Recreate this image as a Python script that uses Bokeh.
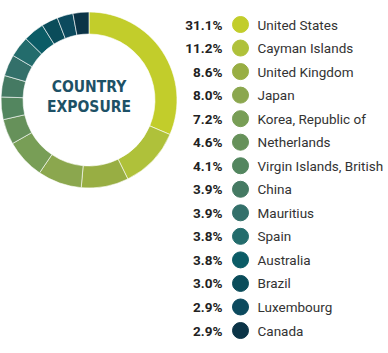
import numpy as np
from bokeh.plotting import figure
from bokeh.models import Range1d, ColumnDataSource
from bokeh.core.properties import value
from bokeh.embed import file_html
from bokeh.resources import INLINE

countries = ["United States", "Cayman Islands", "United Kingdom", "Japan",
             "Korea, Republic of", "Netherlands", "Virgin Islands, British",
             "China", "Mauritius", "Spain", "Australia", "Brazil",
             "Luxembourg", "Canada"]
shares = [31.1, 11.2, 8.6, 8.0, 7.2, 4.6, 4.1, 3.9, 3.9, 3.8, 3.8, 3.0, 2.9, 2.9]
colors = ["#C2CD2B", "#AFC13A", "#98AE43", "#8BA74E", "#789E56", "#66915A",
          "#53865F", "#457A63", "#33706A", "#236C6C", "#0B5C66", "#0A4C5A",
          "#0C4A5E", "#0B3447"]
labels = [f"{s:.1f}%" for s in shares]
center_title = ["COUNTRY", "EXPOSURE"]

W, H = 388, 353
p = figure(width=W, height=H, output_backend="svg", toolbar_location=None,
           x_range=Range1d(0, W), y_range=Range1d(0, H), min_border=0)
p.axis.visible = False
p.grid.visible = False
p.outline_line_color = None
p.background_fill_color = "white"

# donut
cx, cy = 88.5, H - 99.5
total = sum(shares)
frac = np.array(shares) / total
cum = np.concatenate([[0], np.cumsum(frac)])
start = np.pi / 2 - cum[1:] * 2 * np.pi
end = np.pi / 2 - cum[:-1] * 2 * np.pi
src = ColumnDataSource(dict(x=[cx] * len(shares), y=[cy] * len(shares),
                            start=start, end=end, color=colors))
p.annular_wedge(x="x", y="y", inner_radius=66, outer_radius=88,
                start_angle="start", end_angle="end", color="color",
                line_color="white", line_width=0.6, source=src)

tfont = value("'DejaVu Sans Condensed', 'Liberation Sans Narrow', Roboto")
p.text(x=[cx, cx], y=[H - 86, H - 106], text=center_title,
       text_font=tfont, text_font_style="bold", text_font_size="15.5px",
       text_color="#1D5166", text_align="center", text_baseline="middle")

# legend
n = len(countries)
ys = [H - (24 + i * 23.54) for i in range(n)]
lsrc = ColumnDataSource(dict(y=ys, lab=labels, name=countries, color=colors,
                             xp=[222] * n, xc=[240] * n, xn=[257] * n))
p.text(x="xp", y="y", text="lab", source=lsrc, text_font=value("Roboto"),
       text_font_style="bold", text_font_size="13.5px", text_color="#222222",
       text_align="right", text_baseline="middle")
p.circle(x="xc", y="y", radius=8, color="color", source=lsrc)
p.text(x="xn", y="y", text="name", source=lsrc, text_font=value("Roboto"),
       text_font_size="13.5px", text_color="#333333",
       text_align="left", text_baseline="middle")

open("out.html", "w").write(file_html(p, INLINE))
